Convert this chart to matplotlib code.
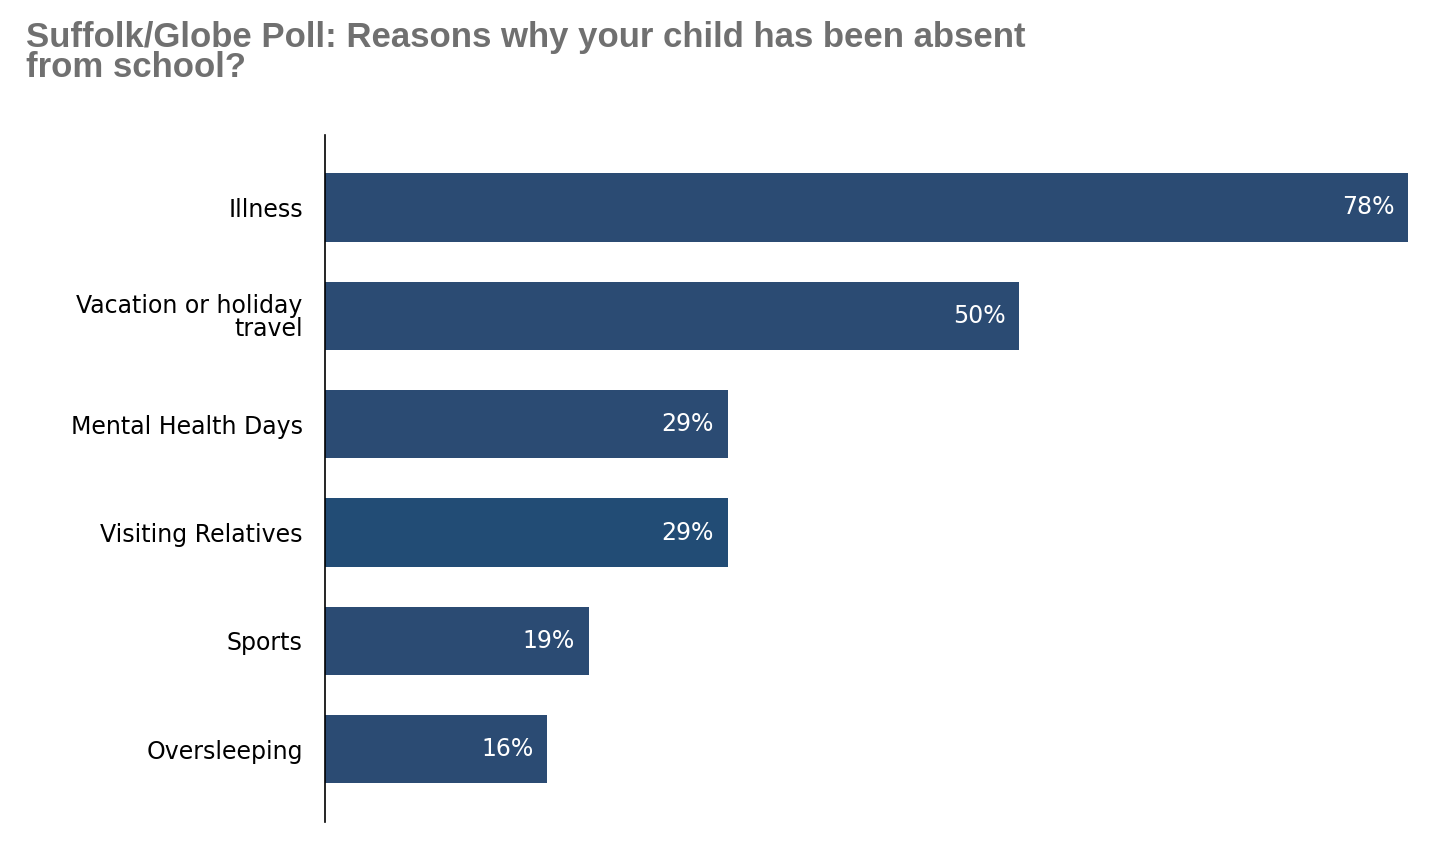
import matplotlib.pyplot as plt

labels = ['Illness', 'Vacation or holiday\ntravel', 'Mental Health Days',
          'Visiting Relatives', 'Sports', 'Oversleeping']
values = [78, 50, 29, 29, 19, 16]
colors = ['#2b4b73', '#2b4b73', '#2b4b73', '#224c75', '#2b4b73', '#2b4b73']

fig = plt.figure(figsize=(14.56, 8.43), dpi=100)
ax = fig.add_axes([0.2232, 0.025, 0.745, 0.815])

ypos = list(range(len(values)))
ax.barh(ypos, values, height=0.63, color=colors)
for y, v in zip(ypos, values):
    ax.text(v - 1, y, f'{v}%', ha='right', va='center', color='white', fontsize=17)

ax.set_yticks(ypos)
ax.set_yticklabels(labels, fontsize=17, linespacing=0.95)
ax.tick_params(axis='y', length=0, pad=16)
ax.set_xticks([])
ax.set_xlim(0, 78.1)
ax.set_ylim(5.67, -0.67)
for s in ['top', 'right', 'bottom']:
    ax.spines[s].set_visible(False)
ax.spines['left'].set_linewidth(1.2)

fig.text(0.018, 0.975, 'Suffolk/Globe Poll: Reasons why your child has been absent\nfrom school?',
         ha='left', va='top', fontsize=25, fontweight='heavy', color='#707070',
         family='Liberation Sans', linespacing=0.9)

plt.savefig('out.png')
